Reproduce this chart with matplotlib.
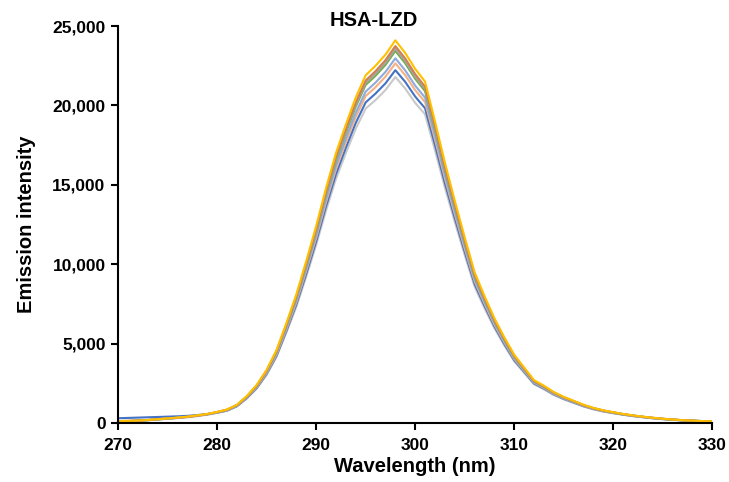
import numpy as np
import matplotlib.pyplot as plt
from matplotlib.ticker import FuncFormatter

plt.rcParams['font.family'] = ['Liberation Sans', 'DejaVu Sans']

wavelength = np.arange(270, 331)

yellow = [120, 130, 150, 190, 240, 290, 340, 400, 480, 570,
          700, 850, 1150, 1700, 2400, 3350, 4600, 6300, 8100, 10200,
          12400, 14800, 17000, 18800, 20500, 21900, 22500, 23200, 24100, 23300,
          22300, 21500, 19000, 16400, 14000, 11700, 9500, 8000, 6600, 5400,
          4300, 3500, 2700, 2350, 1950, 1650, 1400, 1150, 950, 800,
          680, 570, 480, 400, 330, 270, 220, 180, 150, 120, 100]
orange = [120, 130, 150, 190, 240, 290, 330, 390, 470, 560,
          690, 840, 1130, 1670, 2360, 3300, 4530, 6210, 7980, 10050,
          12210, 14580, 16750, 18520, 20190, 21570, 22160, 22850, 23740, 22950,
          21970, 21180, 18720, 16150, 13790, 11520, 9360, 7880, 6500, 5320,
          4240, 3450, 2660, 2310, 1920, 1630, 1380, 1130, 940, 790,
          670, 560, 470, 390, 330, 270, 220, 180, 150, 120, 100]
gray = [120, 130, 150, 190, 230, 280, 330, 390, 470, 560,
        680, 830, 1120, 1660, 2350, 3280, 4500, 6160, 7920, 9980,
        12130, 14470, 16630, 18390, 20050, 21420, 22010, 22690, 23570, 22790,
        21810, 21030, 18580, 16040, 13690, 11440, 9290, 7820, 6450, 5280,
        4210, 3420, 2640, 2300, 1910, 1610, 1370, 1120, 930, 780,
        670, 560, 470, 390, 320, 260, 220, 180, 150, 120, 100]
green = [120, 130, 150, 180, 230, 280, 330, 390, 470, 550,
         680, 830, 1120, 1650, 2330, 3260, 4470, 6120, 7870, 9910,
         12050, 14390, 16520, 18270, 19930, 21290, 21870, 22550, 23430, 22650,
         21680, 20900, 18470, 15940, 13610, 11370, 9230, 7780, 6420, 5250,
         4180, 3400, 2620, 2280, 1900, 1600, 1360, 1120, 920, 780,
         660, 550, 470, 390, 320, 260, 210, 170, 150, 120, 100]
light_blue = [110, 120, 140, 180, 230, 280, 320, 380, 460, 540,
              670, 810, 1100, 1620, 2290, 3190, 4380, 6000, 7720, 9720,
              11820, 14100, 16200, 17920, 19540, 20870, 21440, 22110, 22970, 22200,
              21250, 20490, 18110, 15630, 13340, 11150, 9050, 7620, 6290, 5150,
              4100, 3340, 2570, 2240, 1860, 1570, 1330, 1100, 910, 760,
              650, 540, 460, 380, 310, 260, 210, 170, 140, 110, 100]
salmon = [110, 120, 140, 180, 230, 270, 320, 380, 450, 540,
          660, 800, 1080, 1600, 2260, 3150, 4320, 5920, 7610, 9590,
          11660, 13910, 15980, 17670, 19270, 20590, 21150, 21810, 22650, 21900,
          20960, 20210, 17860, 15420, 13160, 11000, 8930, 7520, 6200, 5080,
          4040, 3290, 2540, 2210, 1830, 1550, 1320, 1080, 890, 750,
          640, 540, 450, 380, 310, 250, 210, 170, 140, 110, 90]
blue = [300, 320, 340, 360, 380, 400, 420, 450, 500, 560,
        650, 780, 1060, 1570, 2210, 3090, 4240, 5810, 7470, 9400,
        11430, 13650, 15670, 17330, 18900, 20190, 20750, 21390, 22220, 21480,
        20560, 19820, 17520, 15120, 12910, 10790, 8760, 7380, 6090, 4980,
        3960, 3230, 2490, 2170, 1800, 1520, 1290, 1060, 880, 740,
        630, 530, 440, 370, 300, 250, 200, 170, 140, 110, 90]
light_gray = [100, 120, 140, 170, 220, 260, 310, 360, 430, 520,
              630, 770, 1040, 1540, 2170, 3030, 4160, 5700, 7320, 9220,
              11210, 13380, 15370, 17000, 18530, 19800, 20340, 20970, 21790, 21060,
              20160, 19440, 17180, 14830, 12660, 10580, 8590, 7230, 5970, 4880,
              3890, 3160, 2440, 2120, 1760, 1490, 1270, 1040, 860, 720,
              610, 520, 430, 360, 300, 240, 200, 160, 140, 110, 90]

series = [
    (light_gray, '#C9C9C9'),
    (blue, '#4472C4'),
    (salmon, '#F4B183'),
    (light_blue, '#8FAADC'),
    (green, '#70AD47'),
    (gray, '#A5A5A5'),
    (orange, '#D0804F'),
    (yellow, '#FFC000'),
]

fig = plt.figure(figsize=(7.29, 4.82), dpi=100)
ax = fig.add_axes([0.162, 0.1224, 0.815, 0.8236])

for values, color in series:
    ax.plot(wavelength, values, color=color, linewidth=1.5)

ax.set_xlim(270, 330)
ax.set_ylim(0, 25000)
ax.set_xticks(np.arange(270, 331, 10))
ax.set_yticks(np.arange(0, 25001, 5000))
ax.yaxis.set_major_formatter(FuncFormatter(lambda v, p: f'{int(v):,}'))

for side in ['top', 'right']:
    ax.spines[side].set_visible(False)
for side in ['left', 'bottom']:
    ax.spines[side].set_linewidth(1.5)

ax.tick_params(direction='out', length=5, width=1.5, labelsize=12.5)
ax.tick_params(axis='x', pad=6)
ax.tick_params(axis='y', pad=4)
for lab in ax.get_xticklabels() + ax.get_yticklabels():
    lab.set_fontweight('bold')

ax.set_xlabel('Wavelength (nm)', fontsize=14.5, fontweight='bold', labelpad=3)
ax.set_ylabel('Emission intensity', fontsize=14.5, fontweight='bold', labelpad=12)
fig.text(0.513, 0.958, 'HSA-LZD', fontsize=14.5, fontweight='bold', ha='center', va='center')

fig.savefig('out.png', dpi=100)
